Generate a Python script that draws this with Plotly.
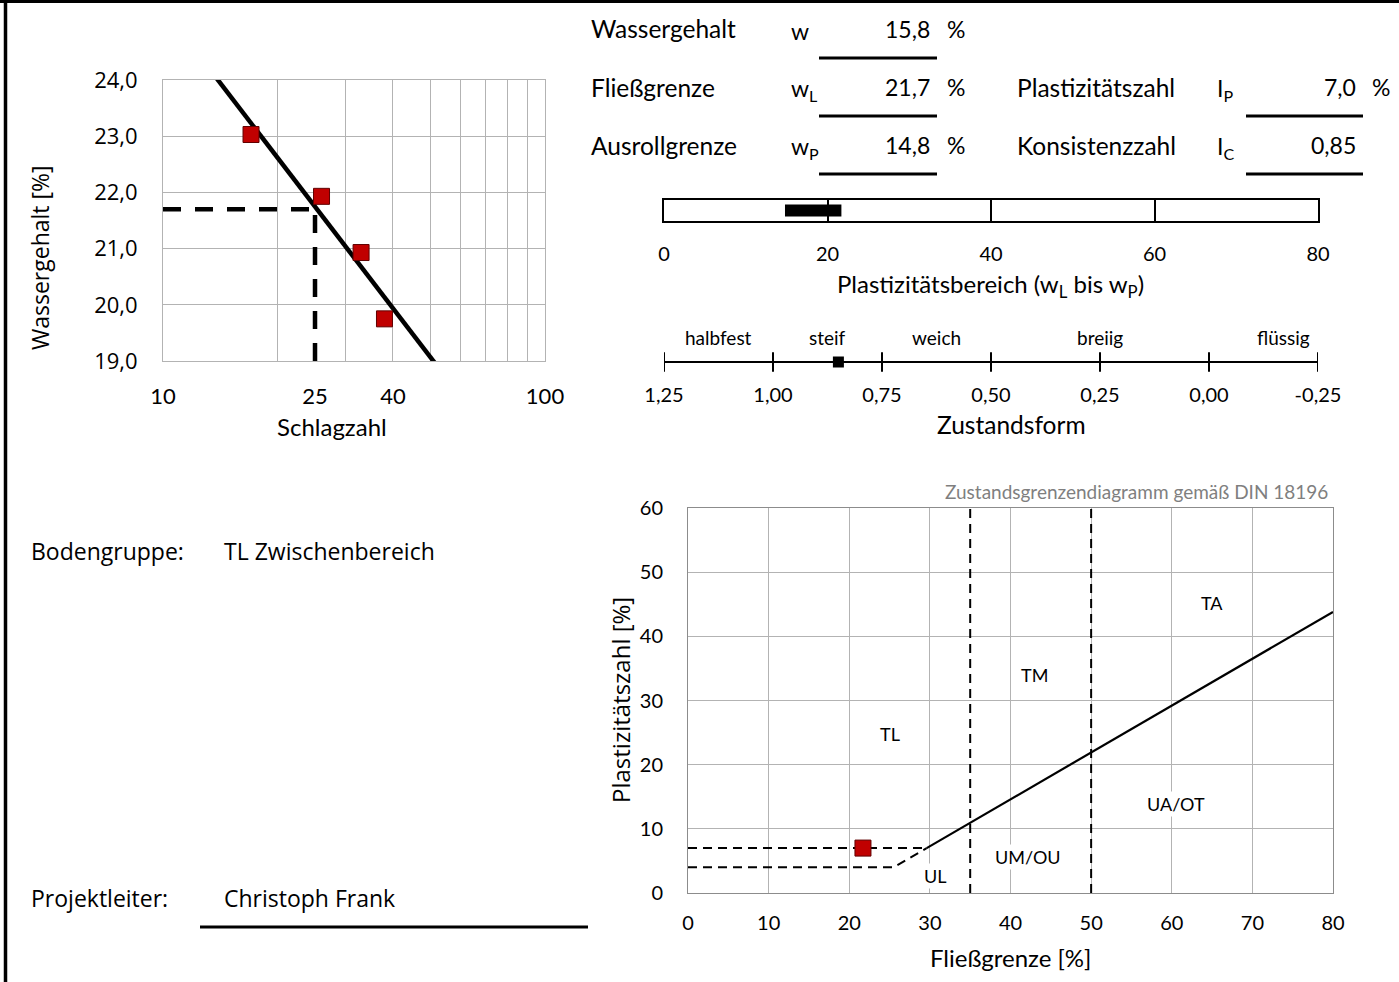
import numpy as np
import plotly.graph_objects as go

W, H = 1399, 982


def px(x):
    return x / W


def py(y):
    return 1 - y / H


# ---------------- Daten: Fließgrenzenversuch (Casagrande) ----------------
schlagzahl = [17.0, 26.0, 33.0, 38.0]
wassergehalt_proben = [23.03, 21.93, 20.93, 19.75]
schlagzahl_ticks = [10, 25, 40, 100]
schlagzahl_grid = [20, 30, 40, 50, 60, 70, 80, 90]
wassergehalt_ticks = [19, 20, 21, 22, 23, 24]
N_bezug = 25

# ---------------- Kennwerte ----------------
w_nat = 15.8
w_L = 21.7
w_P = 14.8
I_P = 7.0
I_C = 0.85

# ---------------- Plastizitätsbereich / Zustandsform ----------------
plast_ticks = [0, 20, 40, 60, 80]
zust_ticks = [1.25, 1.00, 0.75, 0.50, 0.25, 0.00, -0.25]
zust_namen = ["halbfest", "steif", "weich", "breiig", "flüssig"]
zust_namen_pos = [1.125, 0.875, 0.625, 0.25, -0.17]

# ---------------- Plastizitätsdiagramm DIN 18196 ----------------
a_linie_wL = [29.6, 80.0]
a_linie_IP = [7.0, 43.8]
grenze7_wL = [0, 29.6]
grenze7_IP = [7, 7]
grenze4_wL = [0, 25.5, 29.6]
grenze4_IP = [4, 4, 7]
trenn_wL = [35, 50]
bereich_namen = ["TL", "TM", "TA", "UL", "UM/OU", "UA/OT"]
bereich_wL = [25.0, 43.0, 65.0, 30.6, 42.2, 60.5]
bereich_IP = [24.8, 34.0, 45.2, 2.6, 5.6, 13.9]

RED = "#C00000"
GRID = "#b3b3b3"
FONT = "Lato"
FONT2 = "Open Sans"


def fmt(v, d=1):
    return f"{v:.{d}f}".replace(".", ",")


fig = go.Figure()

# ---------- Diagramm 1: Fließgrenze ----------
coef = np.polyfit(np.log10(schlagzahl), wassergehalt_proben, 1)
line_N = [10, 100]
line_w = np.polyval(coef, np.log10(line_N))
fig.add_trace(go.Scatter(x=line_N, y=line_w, mode="lines",
                         line=dict(color="black", width=4.5), xaxis="x", yaxis="y"))
fig.add_trace(go.Scatter(x=[10, N_bezug], y=[w_L, w_L], mode="lines",
                         line=dict(color="black", width=4.5, dash="18px,14px"),
                         xaxis="x", yaxis="y"))
fig.add_trace(go.Scatter(x=[N_bezug, N_bezug], y=[wassergehalt_ticks[0], w_L], mode="lines",
                         line=dict(color="black", width=4.5, dash="18px,14px"),
                         xaxis="x", yaxis="y"))
fig.add_trace(go.Scatter(x=schlagzahl, y=wassergehalt_proben, mode="markers",
                         marker=dict(symbol="square", size=16, color=RED,
                                     line=dict(color="#600000", width=1)),
                         xaxis="x", yaxis="y"))

# ---------- Diagramm 2: Plastizitätsbereich-Balken ----------
fig.add_trace(go.Bar(x=[w_L - w_P], base=[w_P], y=[0.5], orientation="h", width=0.56,
                     marker=dict(color="black", line=dict(width=0)),
                     xaxis="x3", yaxis="y3"))

# ---------- Diagramm 3: Zustandsform ----------
fig.add_trace(go.Scatter(x=[zust_ticks[0], zust_ticks[-1]], y=[0, 0], mode="lines",
                         line=dict(color="black", width=2), xaxis="x4", yaxis="y4"))
fig.add_trace(go.Scatter(x=zust_ticks, y=[0] * len(zust_ticks), mode="markers",
                         marker=dict(symbol="line-ns", size=14,
                                     line=dict(color="black", width=2)),
                         xaxis="x4", yaxis="y4"))
fig.add_trace(go.Scatter(x=[I_C], y=[0], mode="markers",
                         marker=dict(symbol="square", size=11, color="black"),
                         xaxis="x4", yaxis="y4"))

# ---------- Diagramm 4: Plastizitätsdiagramm ----------
for xv in trenn_wL:
    fig.add_trace(go.Scatter(x=[xv, xv], y=[0, 60], mode="lines",
                             line=dict(color="black", width=2, dash="9px,6px"),
                             xaxis="x2", yaxis="y2"))
fig.add_trace(go.Scatter(x=a_linie_wL, y=a_linie_IP, mode="lines",
                         line=dict(color="black", width=2.2), xaxis="x2", yaxis="y2"))
fig.add_trace(go.Scatter(x=grenze7_wL, y=grenze7_IP, mode="lines",
                         line=dict(color="black", width=2, dash="9px,6px"),
                         xaxis="x2", yaxis="y2"))
fig.add_trace(go.Scatter(x=grenze4_wL, y=grenze4_IP, mode="lines",
                         line=dict(color="black", width=2, dash="9px,6px"),
                         xaxis="x2", yaxis="y2"))
fig.add_trace(go.Scatter(x=[w_L], y=[I_P], mode="markers",
                         marker=dict(symbol="square", size=16, color=RED,
                                     line=dict(color="#600000", width=1)),
                         xaxis="x2", yaxis="y2"))

# ---------- Achsen ----------
fig.update_layout(
    xaxis=dict(domain=[px(163), px(545)], anchor="y", type="log", range=[1, 2],
               tickmode="array", tickvals=schlagzahl_ticks,
               ticktext=[str(v) for v in schlagzahl_ticks],
               showgrid=False, zeroline=False, automargin=False,
               minor=dict(tickmode="array", tickvals=schlagzahl_grid, showgrid=True,
                          gridcolor=GRID, gridwidth=1, ticks=""),
               showline=True, mirror=True, linecolor=GRID, linewidth=1,
               ticks="outside", ticklen=16, tickcolor="rgba(0,0,0,0)",
               tickfont=dict(family=FONT, size=22, color="black")),
    yaxis=dict(domain=[py(361), py(80)], anchor="x", range=[19, 24],
               tickmode="array", tickvals=wassergehalt_ticks, tickformat=".1f",
               showgrid=True, gridcolor=GRID, gridwidth=1, zeroline=False,
               automargin=False,
               showline=True, mirror=True, linecolor=GRID, linewidth=1,
               ticks="outside", ticklen=20, tickcolor="rgba(0,0,0,0)",
               tickfont=dict(family=FONT2, size=22, color="black")),
    xaxis2=dict(domain=[px(688), px(1333)], anchor="y2", range=[0, 80], dtick=10,
                tick0=0, showgrid=True, gridcolor=GRID, zeroline=False,
                automargin=False,
                showline=True, mirror=True, linecolor="#8c8c8c", linewidth=1,
                ticks="outside", ticklen=12, tickcolor="rgba(0,0,0,0)",
                tickfont=dict(family=FONT, size=20, color="black")),
    yaxis2=dict(domain=[py(893), py(508)], anchor="x2", range=[0, 60], dtick=10,
                tick0=0, showgrid=True, gridcolor=GRID, zeroline=False,
                automargin=False,
                showline=True, mirror=True, linecolor="#8c8c8c", linewidth=1,
                ticks="outside", ticklen=20, tickcolor="rgba(0,0,0,0)",
                tickfont=dict(family=FONT, size=20, color="black")),
    xaxis3=dict(domain=[px(664), px(1318)], anchor="y3", range=[0, 80],
                tickmode="array", tickvals=plast_ticks,
                showgrid=True, gridcolor="black", gridwidth=1.5, zeroline=False,
                automargin=False,
                showline=True, mirror=True, linecolor="black", linewidth=1.5,
                ticks="outside", ticklen=14, tickcolor="rgba(0,0,0,0)",
                tickfont=dict(family=FONT, size=20, color="black")),
    yaxis3=dict(domain=[py(221), py(200)], anchor="x3", range=[0, 1],
                showgrid=False, zeroline=False, showticklabels=False, automargin=False,
                showline=True, mirror=True, linecolor="black", linewidth=1.5),
    xaxis4=dict(domain=[px(664), px(1318)], anchor="y4", range=[1.25, -0.25],
                tickmode="array", tickvals=zust_ticks,
                ticktext=[fmt(v, 2) for v in zust_ticks],
                showgrid=False, zeroline=False, showline=False, automargin=False,
                ticks="outside", ticklen=5, tickcolor="rgba(0,0,0,0)",
                tickfont=dict(family=FONT, size=20, color="black")),
    yaxis4=dict(domain=[py(372), py(352)], anchor="x4", range=[-1, 1],
                showgrid=False, zeroline=False, showticklabels=False, showline=False,
                automargin=False),
)

# ---------- Texte ----------
ann = []


def txt(x, y, text, size=23, family=FONT, anchor="left", color="black", angle=0, **kw):
    ann.append(dict(x=px(x), y=py(y), xref="paper", yref="paper", text=text,
                    showarrow=False, xanchor=anchor, yanchor="middle", textangle=angle,
                    font=dict(family=family, size=size, color=color), **kw))


# Achsentitel
txt(40, 258, "Wassergehalt [%]", size=23, family=FONT2, anchor="center", angle=-90)
txt(332, 426, "Schlagzahl", size=24, anchor="center")
txt(990, 285, "Plastizitätsbereich (w<sub>L</sub> bis w<sub>P</sub>)", size=24, anchor="center")
txt(1011, 424, "Zustandsform", size=24.5, anchor="center")
txt(620, 700, "Plastizitätszahl [%]", size=24, family=FONT2, anchor="center", angle=-90)
txt(1010, 957, "Fließgrenze [%]", size=24, anchor="center")
txt(1330, 491, "Zustandsgrenzendiagramm gemäß DIN 18196", size=19, anchor="right",
    color="#7f7f7f")

# Kennwert-Tabelle
rows_left = [("Wassergehalt", "w", fmt(w_nat), "%"),
             ("Fließgrenze", "w<sub>L</sub>", fmt(w_L), "%"),
             ("Ausrollgrenze", "w<sub>P</sub>", fmt(w_P), "%")]
row_y = [29, 87, 145]
for (lab, sym, val, unit), yy in zip(rows_left, row_y):
    txt(589, yy, lab, size=24.5)
    txt(789, yy + 2, sym)
    txt(932, yy, val, anchor="right")
    txt(945, yy, unit)
rows_right = [("Plastizitätszahl", "I<sub>P</sub>", fmt(I_P), "%"),
              ("Konsistenzzahl", "I<sub>C</sub>", fmt(I_C, 2), "")]
for (lab, sym, val, unit), yy in zip(rows_right, row_y[1:]):
    txt(1015, yy, lab, size=24.5)
    txt(1215, yy + 2, sym)
    txt(1358, yy, val, anchor="right")
    if unit:
        txt(1370, yy, unit)

# Zustandsform-Bereiche
for name, pos in zip(zust_namen, zust_namen_pos):
    ann.append(dict(x=pos, y=py(337), xref="x4", yref="paper", text=name,
                    showarrow=False, xanchor="center", yanchor="middle",
                    font=dict(family=FONT, size=19, color="black")))

# Bodengruppen im Diagramm
for name, xv, yv in zip(bereich_namen, bereich_wL, bereich_IP):
    ann.append(dict(x=xv, y=yv, xref="x2", yref="y2", text=name, showarrow=False,
                    xanchor="center", yanchor="middle", bgcolor="white", borderpad=1,
                    font=dict(family=FONT, size=18, color="black")))

# Linke Texte
txt(29, 551, "Bodengruppe:", size=23, family=FONT2)
txt(222, 551, "TL Zwischenbereich", size=23, family=FONT2)
txt(29, 898, "Projektleiter:", size=23, family=FONT2)
txt(222, 898, "Christoph Frank", size=23, family=FONT2)

# ---------- Linien (Layout) ----------
shapes = []


def hline(x0, x1, y, w=3):
    shapes.append(dict(type="line", xref="paper", yref="paper", x0=px(x0), x1=px(x1),
                       y0=py(y), y1=py(y), line=dict(color="black", width=w)))


for yy in [58, 116, 174]:
    hline(819, 937, yy)
for yy in [116, 174]:
    hline(1246, 1363, yy)
hline(200, 588, 927)
hline(0, W, 1.5, w=3)
shapes.append(dict(type="line", xref="paper", yref="paper", x0=px(5.5), x1=px(5.5),
                   y0=0, y1=1, line=dict(color="black", width=3.5)))

fig.update_layout(
    width=W, height=H, autosize=False,
    margin=dict(l=0, r=0, t=0, b=0, pad=0, autoexpand=False),
    paper_bgcolor="white", plot_bgcolor="white",
    separators=",.", showlegend=False,
    font=dict(family=FONT, color="black"),
    annotations=ann, shapes=shapes,
    barmode="overlay",
)

fig.write_html("out.html", config={"displayModeBar": False},
               post_script="document.body.style.margin='0px';document.body.style.overflow='hidden';")
